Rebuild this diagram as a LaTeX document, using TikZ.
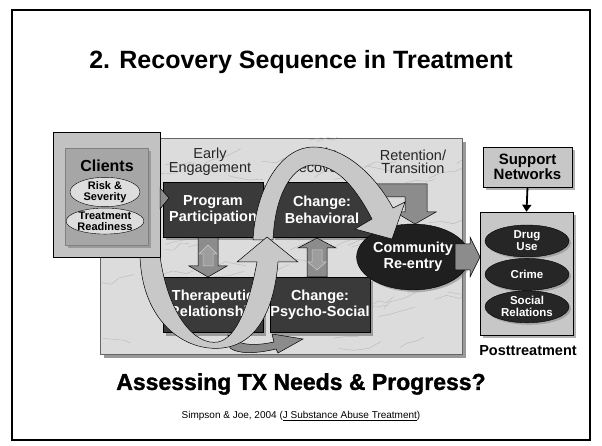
\documentclass[tikz,border=0pt]{standalone}
\usepackage{fontspec}
\setmainfont{Liberation Sans}
\newfontfamily\heavyfont{Liberation Sans}[BoldFeatures={FakeBold=1.4}]
\usetikzlibrary{positioning,shapes.geometric,shadows,arrows.meta}

\definecolor{boxdark}{HTML}{3A3A3A}
\definecolor{marble}{HTML}{DCDCDC}
\definecolor{bandlight}{HTML}{C8C8C8}
\definecolor{bandmid}{HTML}{8C8C8C}
\definecolor{panel}{HTML}{C2C2C2}
\definecolor{panelin}{HTML}{A6A6A6}
\definecolor{ovallight}{HTML}{DDDDDD}

\newcommand{\fsz}[2]{\fontsize{#1}{#2}\selectfont}

\tikzset{
	darkbox/.style={draw=black, fill=boxdark, text=white, font=\bfseries\fsz{14.5}{16.5}, align=center, minimum width=100, minimum height=55, inner sep=0, drop shadow={shadow xshift=3pt, shadow yshift=-3pt, opacity=.7}},
	phase/.style={text=black!85, font=\fsz{14.5}{13.5}, align=center},
	oval/.style={ellipse, draw=black, fill=ovallight, font=\bfseries\fsz{11}{10.5}, align=center, minimum width=70, minimum height=26, inner sep=0},
	outcome/.style={ellipse, draw=black, fill=black!85, text=white, font=\bfseries\fsz{11.5}{12}, align=center, minimum width=84, minimum height=32, inner sep=0, drop shadow={shadow xshift=2pt, shadow yshift=-2pt, opacity=.5}},
	litebox/.style={draw=black, fill=ovallight!90!black, drop shadow={shadow xshift=3pt, shadow yshift=-3pt, opacity=.6}},
	band/.style={draw=black, line width=.5, fill=bandlight},
	bandd/.style={draw=black, line width=.5, fill=bandmid},
	bandin/.style={draw=white!80!black, line width=.5, fill=bandmid!85!white},
	vein/.style={black!40, line width=.4, opacity=.55},
}

\begin{document}
\begin{tikzpicture}[x=1pt, y=-1pt]
	\useasboundingbox (0,0) rectangle (602,446);
	\draw[line width=1.3] (12,10) rectangle (590,440);
	\node (title) [font=\bfseries\fsz{25}{25}] at (301,62) {2. Recovery Sequence in Treatment};

	% marble panel
	\draw[fill=marble, draw=black!60, drop shadow={shadow xshift=4pt, shadow yshift=-4pt, opacity=.8}] (100,138) rectangle (462,354);
	\begin{scope}
		\clip (100,138) rectangle (462,354);
		\pgfmathsetseed{11}
		\foreach \k in {1,...,70} {
			\pgfmathsetmacro\xa{90+rnd*370}
			\pgfmathsetmacro\ya{130+rnd*220}
			\draw[vein] (\xa,\ya) -- ++({6+rnd*10},{rnd*10-7}) -- ++({6+rnd*10},{rnd*10-7}) -- ++({6+rnd*10},{rnd*10-7});
		}
	\end{scope}
	\node (engage) [phase] at (210,162) {Early\\Engagement};
	\node (early) [phase] at (319,162) {Early\\Recovery};
	\node (retain) [phase] at (413,162) {Retention/\\Transition};

	% bent arrow into re-entry
	\filldraw[bandd] (365,184) -- (427,184) -- (427,212) -- (436,212) -- (415,224) -- (395,212) -- (405,212) -- (405,197) -- (365,197) -- cycle;

	\node (prog) [darkbox] at (213,210) {Program\\Participation};
	\node (behav) [darkbox] at (322,210) {Change:\\Behavioral};
	\node (ther) [darkbox] at (213,305) {Therapeutic\\Relationship};
	\node (psych) [darkbox] at (320,305) {Change:\\Psycho-Social};

	% two-way arrows
	\filldraw[bandd] (198,238) -- (218,238) -- (218,266) -- (227,266) -- (208,277) -- (189,266) -- (198,266) -- cycle;
	\filldraw[bandin] (203,266) -- (213,266) -- (213,254) -- (217,254) -- (208,245) -- (199,254) -- (203,254) -- cycle;
	\filldraw[bandd] (307,277) -- (327,277) -- (327,248) -- (336,248) -- (317,238) -- (298,248) -- (307,248) -- cycle;
	\filldraw[bandin] (312,250) -- (322,250) -- (322,262) -- (326,262) -- (317,270) -- (308,262) -- (312,262) -- cycle;

	\node (comm) [ellipse, draw=black, fill=black!88, text=white, font=\bfseries\fsz{14.5}{15.5}, align=center, minimum width=84, minimum height=66, inner sep=0, drop shadow={shadow xshift=2pt, shadow yshift=-2pt, opacity=.5}] at (413,257) {Community\\Re-entry};

	% sweeping arrows
	\filldraw[bandd] (228,335) .. controls (238,346) and (255,346) .. (274,342) -- (272,334) -- (303,339) -- (278,353) -- (276,349) .. controls (255,354) and (238,354) .. (230,348) -- cycle;
	\filldraw[band] (253,240) .. controls (256,185) and (283,147) .. (313,147) .. controls (345,147) and (375,175) .. (393,208) -- (405,202) -- (392,239) -- (355,229) -- (372,219) .. controls (357,190) and (338,165) .. (313,165) .. controls (295,165) and (275,190) .. (273,240) -- cycle;
	\filldraw[band] (140,256) .. controls (142,322) and (185,352) .. (222,348) .. controls (262,344) and (275,300) .. (278,262) -- (298,262) -- (267,237) -- (237,262) -- (257,262) .. controls (250,300) and (238,338) .. (218,342) .. controls (195,346) and (168,315) .. (160,256) -- cycle;

	% clients
	\node (clientsout) [draw=black, fill=panel, minimum width=107, minimum height=125] at (106.5,194.5) {};
	\node (clientsin) [draw=black!50, fill=panelin, minimum width=83, minimum height=97, drop shadow={shadow xshift=3pt, shadow yshift=-3pt, opacity=.6}] at (106.5,196.5) {};
	\node (clients) [font=\bfseries\fsz{16}{16}] at (107,166) {Clients};
	\node (risk) [oval] at (105,192) {Risk \&\\Severity};
	\node (ready) [oval, below=1pt of risk] {Treatment\\Readiness};
	\filldraw[bandd] (160,188) -- (169,198) -- (160,209) -- cycle;

	% posttreatment
	\filldraw[bandd] (455,244) -- (470,244) -- (470,237) -- (480,257) -- (470,277) -- (470,270) -- (455,270) -- cycle;
	\node (post) [litebox, minimum width=93, minimum height=123] at (526.5,273.5) {};
	\node (drug) [outcome] at (527,241) {Drug\\Use};
	\node (crime) [outcome, below=1pt of drug] {Crime};
	\node (social) [outcome, below=0pt of crime] {Social\\Relations};
	\node (supp) [litebox, font=\bfseries\fsz{15}{15}, align=center, minimum width=89, minimum height=40] at (527.5,167) {Support\\Networks};
	\draw[-{Triangle[length=7pt, width=9pt]}, line width=1.8] (supp.south) -- (post.north);
	\node (postlbl) [font=\bfseries\fsz{14.5}{14.5}] at (528,351) {Posttreatment};

	\node (assess) [font=\heavyfont\bfseries\fsz{23}{23}] at (301,384) {Assessing TX Needs \& Progress?};
	\node (cite) [font=\fsz{10}{10}] at (301,416) {Simpson \& Joe, 2004 (\underline{J Substance Abuse Treatment})};
\end{tikzpicture}
\end{document}
